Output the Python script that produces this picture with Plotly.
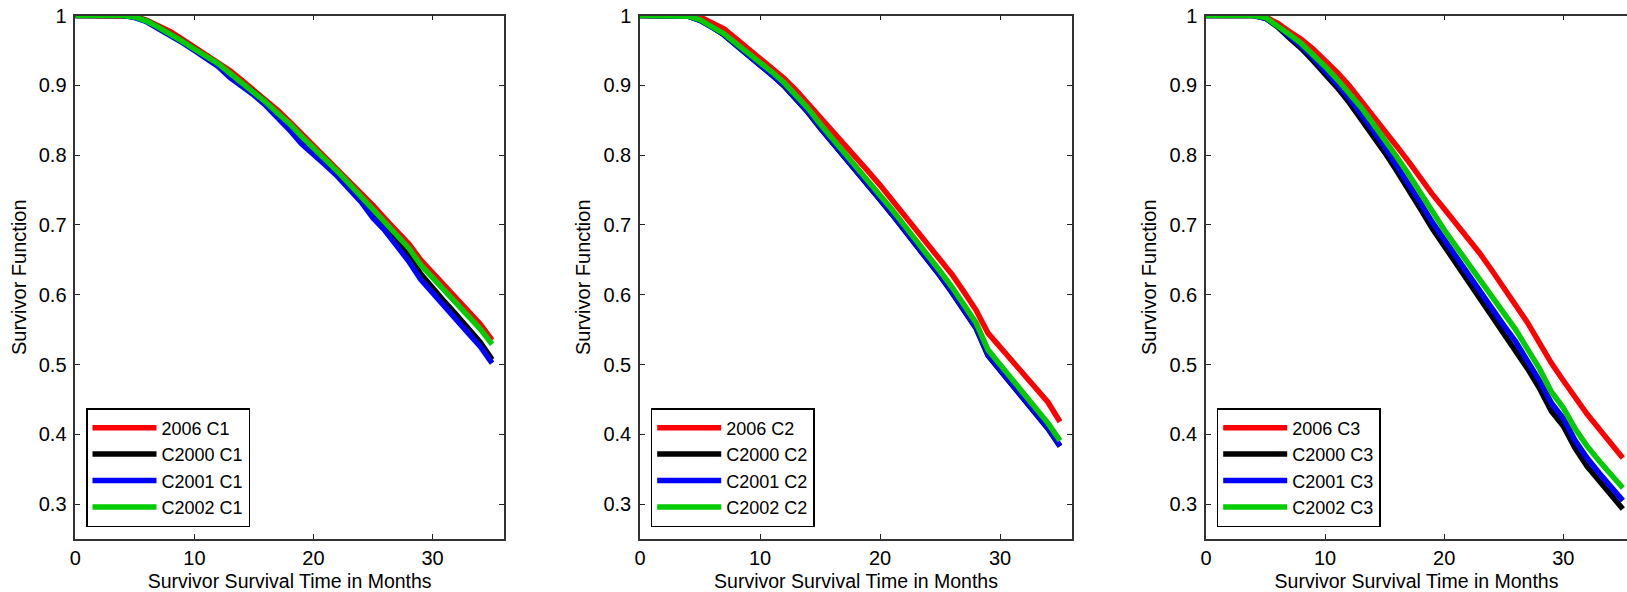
import plotly.graph_objects as go

months = list(range(0, 36))

# Panel C1
c1_2006 = [1, 1, 1, 1, 1, 0.999, 0.993, 0.985, 0.977, 0.966, 0.955, 0.945, 0.934, 0.921, 0.907, 0.893,
           0.880, 0.864, 0.848, 0.831, 0.815, 0.798, 0.781, 0.764, 0.746, 0.728, 0.709, 0.692, 0.673,
           0.650, 0.632, 0.614, 0.596, 0.577, 0.558, 0.535]
c1_c2000 = [1, 1, 1, 1, 1, 0.998, 0.992, 0.983, 0.974, 0.963, 0.952, 0.941, 0.930, 0.915, 0.903, 0.890,
            0.876, 0.860, 0.842, 0.823, 0.808, 0.792, 0.776, 0.758, 0.740, 0.718, 0.700, 0.679, 0.657,
            0.630, 0.609, 0.590, 0.571, 0.552, 0.532, 0.507]
c1_c2001 = [1, 1, 1, 1, 1, 0.997, 0.991, 0.981, 0.972, 0.961, 0.950, 0.939, 0.927, 0.911, 0.899, 0.886,
            0.871, 0.854, 0.836, 0.816, 0.802, 0.786, 0.770, 0.752, 0.733, 0.710, 0.692, 0.670, 0.648,
            0.622, 0.602, 0.583, 0.564, 0.545, 0.526, 0.502]
c1_c2002 = [1, 1, 1, 1, 1, 0.998, 0.992, 0.983, 0.974, 0.963, 0.952, 0.942, 0.931, 0.917, 0.904, 0.890,
            0.876, 0.860, 0.845, 0.827, 0.811, 0.794, 0.777, 0.759, 0.741, 0.722, 0.704, 0.686, 0.667,
            0.643, 0.625, 0.607, 0.589, 0.570, 0.551, 0.529]

# Panel C2
c2_2006 = [1, 1, 1, 1, 1, 0.998, 0.990, 0.981, 0.967, 0.953, 0.939, 0.925, 0.910, 0.893, 0.874, 0.853,
           0.834, 0.815, 0.796, 0.777, 0.757, 0.736, 0.715, 0.693, 0.672, 0.651, 0.629, 0.604, 0.578,
           0.545, 0.525, 0.505, 0.486, 0.466, 0.446, 0.418]
c2_c2000 = [1, 1, 1, 1, 0.999, 0.993, 0.984, 0.972, 0.957, 0.943, 0.929, 0.915, 0.899, 0.880, 0.861, 0.839,
            0.819, 0.799, 0.777, 0.757, 0.736, 0.715, 0.693, 0.672, 0.651, 0.627, 0.603, 0.579, 0.552,
            0.513, 0.492, 0.471, 0.450, 0.429, 0.408, 0.383]
c2_c2001 = [1, 1, 1, 1, 0.999, 0.993, 0.984, 0.973, 0.958, 0.944, 0.930, 0.916, 0.900, 0.881, 0.862, 0.840,
            0.820, 0.800, 0.778, 0.758, 0.737, 0.716, 0.694, 0.673, 0.652, 0.628, 0.604, 0.580, 0.553,
            0.514, 0.493, 0.472, 0.451, 0.430, 0.409, 0.383]
c2_c2002 = [1, 1, 1, 1, 0.999, 0.994, 0.985, 0.974, 0.960, 0.947, 0.933, 0.919, 0.904, 0.886, 0.867, 0.845,
            0.825, 0.805, 0.784, 0.764, 0.743, 0.722, 0.700, 0.679, 0.658, 0.634, 0.611, 0.587, 0.560,
            0.521, 0.500, 0.479, 0.458, 0.437, 0.416, 0.391]

# Panel C3
c3_2006 = [1, 1, 1, 1, 1, 0.998, 0.989, 0.977, 0.966, 0.952, 0.936, 0.919, 0.900, 0.879, 0.857, 0.835,
           0.813, 0.791, 0.767, 0.744, 0.723, 0.702, 0.681, 0.659, 0.635, 0.611, 0.586, 0.560, 0.531,
           0.502, 0.477, 0.452, 0.429, 0.408, 0.387, 0.366]
c3_c2000 = [1, 1, 1, 1, 1, 0.996, 0.984, 0.968, 0.953, 0.935, 0.917, 0.897, 0.876, 0.853, 0.829, 0.804,
            0.778, 0.752, 0.723, 0.695, 0.670, 0.645, 0.620, 0.596, 0.572, 0.545, 0.522, 0.494, 0.466,
            0.433, 0.412, 0.380, 0.354, 0.333, 0.312, 0.293]
c3_c2001 = [1, 1, 1, 1, 1, 0.996, 0.985, 0.970, 0.956, 0.939, 0.921, 0.902, 0.882, 0.860, 0.836, 0.812,
            0.786, 0.760, 0.732, 0.704, 0.679, 0.654, 0.630, 0.606, 0.582, 0.556, 0.533, 0.505, 0.477,
            0.445, 0.423, 0.391, 0.366, 0.345, 0.324, 0.305]
c3_c2002 = [1, 1, 1, 1, 1, 0.997, 0.986, 0.973, 0.960, 0.944, 0.927, 0.909, 0.890, 0.869, 0.846, 0.823,
            0.798, 0.773, 0.746, 0.718, 0.693, 0.669, 0.645, 0.622, 0.598, 0.572, 0.550, 0.522, 0.494,
            0.461, 0.438, 0.408, 0.383, 0.362, 0.342, 0.323]

series_names = ["2006", "C2000", "C2001", "C2002"]
series_colors = ["#ff0000", "#000000", "#0000ff", "#00cc00"]
panel_labels = ["C1", "C2", "C3"]
panel_data = [
    [c1_2006, c1_c2000, c1_c2001, c1_c2002],
    [c2_2006, c2_c2000, c2_c2001, c2_c2002],
    [c3_2006, c3_c2000, c3_c2001, c3_c2002],
]

y_ticks = [0.3, 0.4, 0.5, 0.6, 0.7, 0.8, 0.9, 1.0]
y_ticktext = ["0.3", "0.4", "0.5", "0.6", "0.7", "0.8", "0.9", "1"]
x_ticks = [0, 10, 20, 30]

W, H = 1627, 592
FONT = "Liberation Sans, Arial, Helvetica, sans-serif"

# pixel geometry of the panels (left, right) and vertical extent
panels_px = [(75.3, 504.0), (640.0, 1072.0), (1206.0, 1627.0)]
x_ranges = [[0, 36], [0, 36], [0, 35.35]]
top_px, bot_px = 15.5, 539.0
ydom = [(H - bot_px) / H, (H - top_px) / H]

fig = go.Figure()
legend_names = ["legend", "legend2", "legend3"]

for p in range(3):
    xa = "x" if p == 0 else f"x{p+1}"
    ya = "y" if p == 0 else f"y{p+1}"
    for s in range(4):
        fig.add_trace(go.Scatter(
            x=months, y=panel_data[p][s], mode="lines",
            name=f"{series_names[s]} {panel_labels[p]}",
            line=dict(color=series_colors[s], width=5.5),
            xaxis=xa, yaxis=ya, legend=legend_names[p],
        ))

axis_common = dict(
    showgrid=False, zeroline=False, showline=True, linecolor="#333333", linewidth=1.5,
    ticks="inside", ticklen=5, tickwidth=1.2, tickcolor="#222222", automargin=False,
    tickfont=dict(family=FONT, size=20, color="#000000"),
)

layout = dict(
    width=W, height=H, margin=dict(l=0, r=0, t=0, b=0, autoexpand=False),
    paper_bgcolor="white", plot_bgcolor="white", showlegend=True,
)

for p in range(3):
    l, r = panels_px[p]
    sfx = "" if p == 0 else str(p + 1)
    layout[f"xaxis{sfx}"] = dict(
        axis_common, domain=[l / W, r / W], range=x_ranges[p], tickvals=x_ticks,
        mirror="ticks", anchor=f"y{sfx}",
        title=dict(text="Survivor Survival Time in Months",
                   font=dict(family=FONT, size=19.5, color="#000000"), standoff=8),
    )
    layout[f"yaxis{sfx}"] = dict(
        axis_common, domain=ydom, range=[0.25, 1.0], tickvals=y_ticks, ticktext=y_ticktext,
        mirror="ticks" if p < 2 else False, anchor=f"x{sfx}",
        ticklabelstandoff=3,
        title=dict(text="Survivor Function",
                   font=dict(family=FONT, size=20, color="#000000"), standoff=7),
    )
    layout[legend_names[p]] = dict(
        x=(l + 10.7) / W, y=(H - 408) / H, xanchor="left", yanchor="top",
        bgcolor="white", bordercolor="#000000", borderwidth=1.5,
        font=dict(family=FONT, size=18, color="#000000"),
        itemwidth=64, tracegroupgap=0,
    )

fig.update_layout(**layout)
fig.write_html("out.html")
